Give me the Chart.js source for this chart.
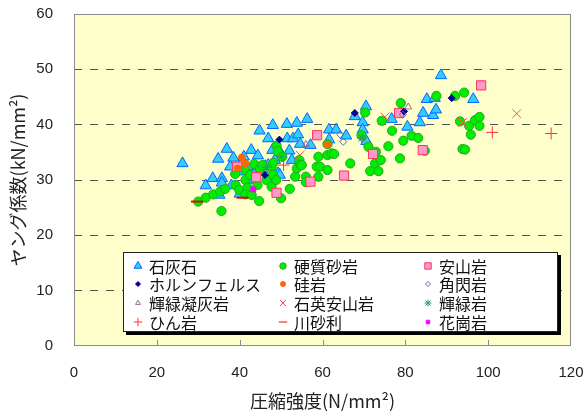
<!DOCTYPE html>
<html>
<head>
<meta charset="utf-8">
<script src="https://cdn.jsdelivr.net/npm/chart.js@4.4.0/dist/chart.umd.min.js"></script>
<style>
  html, body { margin: 0; padding: 0; background: #fff; }
  #wrap { width: 587px; height: 412px; }
</style>
</head>
<body>
<div id="wrap"><canvas id="chart" width="587" height="412"></canvas></div>
<script>
// 圧縮強度 (N/mm2) vs ヤング係数 (kN/mm2), [x, y]
const seriesNames = ['石灰石', '硬質砂岩', '安山岩', 'ホルンフェルス', '硅岩', '角閃岩',
  '輝緑凝灰岩', '石英安山岩', '輝緑岩', 'ひん岩', '川砂利', '花崗岩'];

const xTicks = [0, 20, 40, 60, 80, 100, 120];
const yTicks = [0, 10, 20, 30, 40, 50, 60];

const limestone = [
  [26.2, 33.0], [31.8, 29.0], [33.5, 30.3], [35.7, 30.3], [35.1, 27.3], [35.7, 29.5], [34.8, 33.8],
  [36.9, 35.6], [37.7, 32.4], [39.5, 31.5], [40.5, 33.0], [41.0, 34.2], [41.8, 32.4], [42.8, 35.4],
  [43.5, 31.0], [44.4, 34.4], [44.8, 38.9], [45.5, 32.0], [46.2, 32.5], [46.9, 37.5], [46.9, 32.7],
  [47.9, 35.4], [48.0, 39.9], [48.5, 33.6], [49.3, 31.2], [49.7, 35.1], [49.7, 30.9], [51.4, 40.1],
  [51.5, 37.5], [52.0, 35.3], [52.6, 33.6], [52.9, 37.5], [53.8, 40.3], [54.1, 38.2], [54.6, 36.5],
  [56.3, 41.0], [57.1, 36.3], [61.6, 39.1], [61.6, 37.3], [63.3, 39.1], [65.7, 38.0], [67.8, 41.5],
  [69.7, 40.4], [69.7, 39.1], [70.5, 43.3], [70.6, 37.0], [76.7, 41.0], [80.5, 39.6], [83.5, 40.4],
  [84.3, 42.1], [85.2, 44.6], [86.7, 41.7], [87.1, 44.8], [87.4, 42.7], [88.6, 48.9], [96.4, 44.6],
  [38.0, 29.0], [40.0, 27.5], [42.0, 30.0], [38.5, 34.0]
];
const hardSandstone = [
  [30.0, 26.1], [31.8, 26.8], [33.6, 27.4], [35.3, 27.9], [36.5, 28.4], [35.6, 24.4], [38.9, 31.1],
  [39.0, 29.1], [39.9, 28.2], [41.4, 30.0], [41.9, 28.6], [41.4, 27.4], [42.9, 27.3], [44.7, 26.2],
  [41.3, 31.8], [42.5, 30.9], [43.5, 32.9], [44.3, 29.1], [44.9, 32.0], [45.5, 32.7], [46.5, 30.0],
  [47.7, 28.8], [47.7, 32.3], [48.0, 31.0], [48.1, 33.1], [48.8, 30.0], [48.9, 36.2], [49.2, 35.2],
  [50.0, 26.7], [50.3, 34.2], [52.1, 28.4], [53.4, 30.6], [53.8, 32.1], [54.4, 33.6], [54.7, 32.7],
  [55.0, 32.7], [56.0, 30.6], [56.0, 29.6], [58.6, 32.4], [59.0, 34.2], [59.4, 32.4], [59.0, 30.6],
  [61.2, 31.8], [61.2, 34.5], [61.2, 36.5], [62.2, 34.8], [62.8, 34.7], [66.7, 33.0], [69.4, 38.1],
  [70.3, 42.2], [71.1, 36.0], [71.5, 31.6], [72.7, 33.0], [72.9, 35.1], [73.5, 31.6], [74.1, 33.6],
  [74.3, 40.7], [75.9, 36.1], [76.8, 38.9], [78.7, 33.9], [78.9, 43.9], [79.5, 37.1], [81.5, 38.0],
  [83.1, 37.6], [84.7, 35.3], [87.5, 45.2], [92.0, 45.2], [94.2, 45.8], [93.2, 40.6], [95.4, 39.8],
  [96.8, 40.8], [97.9, 41.4], [97.9, 39.8], [95.8, 38.2], [93.8, 35.6], [94.4, 35.5]
];
const andesite = [
  [39.4, 32.4], [44.0, 30.5], [48.9, 27.7], [57.1, 29.7], [58.7, 38.1], [65.2, 30.8], [72.2, 34.7],
  [78.5, 42.1], [84.2, 35.4], [98.3, 47.1]
];
const hornfels = [[46.1, 30.9], [49.6, 37.3], [67.8, 42.1], [79.7, 42.4], [91.2, 44.8]];
const silicified = [[39.5, 32.1], [40.5, 34.1], [41.4, 33.0], [61.2, 36.4]];
const hornblende = [[64.3, 38.2], [65.0, 36.9], [69.6, 37.5], [79.4, 41.8]];
const diabaseTuff = [[56.0, 36.4], [80.7, 43.2]];
const quartzAndesite = [[54.6, 34.5], [75.1, 41.4], [93.8, 40.4], [106.9, 42.0]];
const diabase = [[50.1, 34.2], [46.5, 32.3], [69.5, 37.6]];
const porphyry = [[50.6, 32.7], [101.0, 38.6], [115.2, 38.4]];
const riverGravel = [[29.7, 26.1], [40.7, 26.8]];
const granite = [[43.3, 28.3]];

const seriesData = [limestone, hardSandstone, andesite, hornfels, silicified, hornblende,
  diabaseTuff, quartzAndesite, diabase, porphyry, riverGravel, granite];

// marker look for each series (same order as seriesNames)
const markerStyles = [
  { pointStyle: 'triangle', radius: 6.5, bg: '#33ccff', border: '#0066ff', bw: 1 },
  { pointStyle: 'circle', radius: 4.6, bg: '#00ee00', border: '#22aa22', bw: 1 },
  { pointStyle: 'rect', radius: 6.5, bg: '#ff99cc', border: '#ff3355', bw: 1 },
  { pointStyle: 'rectRot', radius: 3.5, bg: '#000099', border: '#000099', bw: 1 },
  { pointStyle: 'circle', radius: 3.3, bg: '#ff6600', border: '#ff6600', bw: 1 },
  { pointStyle: 'rectRot', radius: 3.5, bg: 'rgba(0,0,0,0)', border: '#666699', bw: 1 },
  { pointStyle: 'triangle', radius: 4, bg: 'rgba(0,0,0,0)', border: '#996699', bw: 1 },
  { pointStyle: 'crossRot', radius: 6, bg: '#ff5050', border: '#ff5050', bw: 1 },
  { pointStyle: 'star', radius: 5, bg: '#339966', border: '#339966', bw: 1 },
  { pointStyle: 'cross', radius: 6, bg: '#ff3333', border: '#ff3333', bw: 1 },
  { pointStyle: 'line', radius: 6, bg: '#ee0000', border: '#ee0000', bw: 2 },
  { pointStyle: 'rect', radius: 3.5, bg: '#ff00ff', border: '#ff00ff', bw: 1 }
];

const datasets = seriesNames.map((name, i) => {
  const st = markerStyles[i];
  return {
    label: name,
    data: seriesData[i].map(p => ({ x: p[0], y: p[1] })),
    pointStyle: st.pointStyle,
    pointRadius: st.radius,
    pointBackgroundColor: st.bg,
    pointBorderColor: st.border,
    pointBorderWidth: st.bw,
    order: seriesNames.length - i // later series drawn on top
  };
});

// yellow plot background and grey frame
const plotFrame = {
  id: 'plotFrame',
  beforeDraw(chart) {
    const { ctx, chartArea: a } = chart;
    ctx.save();
    ctx.fillStyle = '#ffffcc';
    ctx.fillRect(a.left, a.top, a.right - a.left, a.bottom - a.top);
    ctx.restore();
  },
  beforeDatasetsDraw(chart) {
    const { ctx, chartArea: a, scales } = chart;
    ctx.save();
    ctx.strokeStyle = '#8a8a8a';
    ctx.lineWidth = 1;
    ctx.strokeRect(a.left + 0.5, a.top + 0.5, a.right - a.left - 1, a.bottom - a.top - 1);
    // small x tick marks pointing inward
    xTicks.slice(1, -1).forEach(v => {
      const px = Math.round(scales.x.getPixelForValue(v)) + 0.5;
      ctx.beginPath();
      ctx.moveTo(px, a.bottom);
      ctx.lineTo(px, a.bottom - 6);
      ctx.stroke();
    });
    ctx.restore();
  }
};

// legend box inside the plot, 3 columns
const legendBox = {
  id: 'legendBox',
  afterDatasetsDraw(chart) {
    const { ctx, chartArea: a } = chart;
    const left = a.left + 49, top = a.bottom - 94, right = a.right - 13, bottom = a.bottom - 14;
    ctx.save();
    ctx.fillStyle = '#000';
    ctx.fillRect(left + 3, top + 3, right - left, bottom - top);
    ctx.fillStyle = '#fff';
    ctx.fillRect(left, top, right - left, bottom - top);
    ctx.strokeStyle = '#222';
    ctx.lineWidth = 1;
    ctx.strokeRect(left + 0.5, top + 0.5, right - left - 1, bottom - top - 1);

    const colX = [left + 15, left + 160, left + 305];
    const rowY = [top + 14, top + 32, top + 51, top + 70];
    seriesNames.forEach((name, i) => {
      const cx = colX[i % 3], cy = rowY[Math.floor(i / 3)];
      const st = markerStyles[i];
      ctx.fillStyle = st.bg;
      ctx.strokeStyle = st.border;
      ctx.lineWidth = 1;
      Chart.helpers.drawPoint(ctx, {
        pointStyle: st.pointStyle,
        radius: Math.max(2.5, st.radius * 0.7),
        rotation: 0,
        borderWidth: 1
      }, cx, cy);
      ctx.fillStyle = '#111';
      ctx.font = '16px "Noto Sans CJK JP", sans-serif';
      ctx.textBaseline = 'middle';
      ctx.textAlign = 'left';
      ctx.fillText(name, cx + 11, cy + 1);
    });
    ctx.restore();
  }
};

new Chart(document.getElementById('chart'), {
  type: 'scatter',
  data: { datasets },
  options: {
    responsive: false,
    animation: false,
    layout: { padding: { top: 14, right: 16, left: 0, bottom: 0 } },
    plugins: {
      legend: { display: false },
      tooltip: { enabled: false }
    },
    scales: {
      x: {
        type: 'linear',
        min: 0,
        max: 120,
        afterBuildTicks: s => { s.ticks = xTicks.map(v => ({ value: v })); },
        afterFit: s => { s.height = 66; },
        grid: { display: false, drawTicks: true, tickLength: 18 },
        border: { display: false },
        ticks: {
          padding: 0,
          color: '#222',
          font: { family: '"Liberation Sans", Arial, sans-serif', size: 15 }
        },
        title: {
          display: true,
          text: '圧縮強度(N/mm²)',
          color: '#222',
          padding: { top: 0, bottom: 0 },
          font: { family: '"Noto Sans CJK JP", sans-serif', size: 18 }
        }
      },
      y: {
        type: 'linear',
        min: 0,
        max: 60,
        afterBuildTicks: s => { s.ticks = yTicks.map(v => ({ value: v })); },
        afterFit: s => { s.width = 74; },
        grid: {
          drawTicks: true,
          tickLength: 21,
          tickColor: 'rgba(0,0,0,0)',
          lineWidth: 1,
          color: c => (c.tick.value === 0 || c.tick.value === 60) ? 'rgba(0,0,0,0)' : '#555'
        },
        border: { display: false, dash: [8, 8] },
        ticks: {
          padding: 0,
          color: '#222',
          font: { family: '"Liberation Sans", Arial, sans-serif', size: 15 }
        },
        title: {
          display: true,
          text: 'ヤング係数(kN/mm²)',
          color: '#222',
          padding: { top: 7, bottom: 0 },
          font: { family: '"Noto Sans CJK JP", sans-serif', size: 18 }
        }
      }
    }
  },
  plugins: [plotFrame, legendBox]
});
</script>
</body>
</html>
